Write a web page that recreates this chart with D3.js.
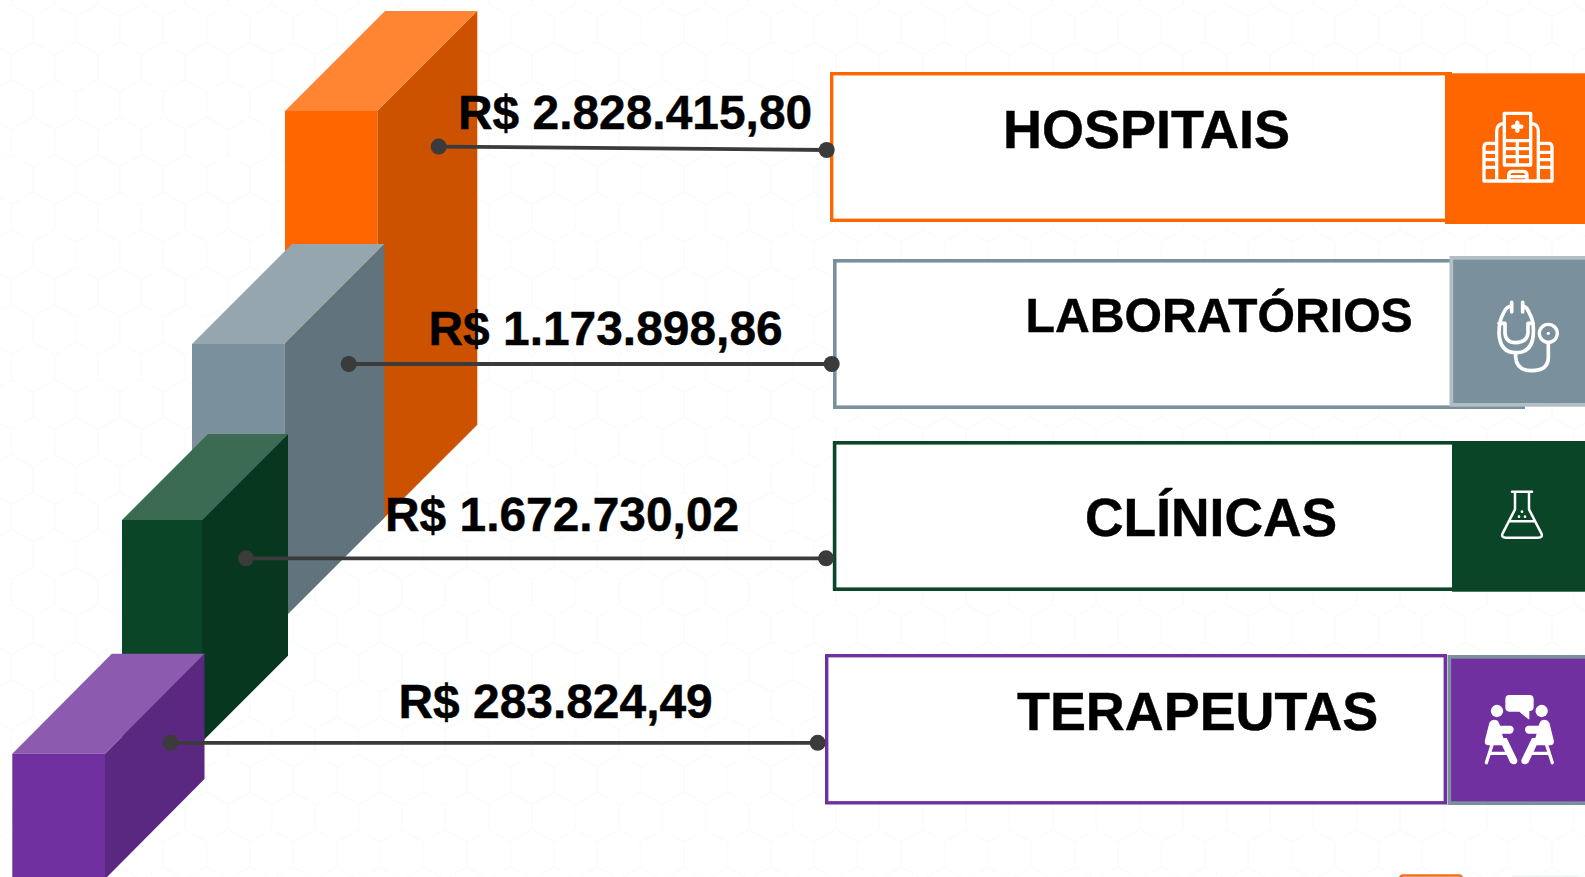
<!DOCTYPE html>
<html lang="pt-BR">
<head>
<meta charset="utf-8">
<title>Valores por categoria</title>
<script src="https://cdn.jsdelivr.net/npm/d3@7"></script>
<style>
html,body{margin:0;padding:0;background:#fff;overflow:hidden}
svg{display:block}
text{font-family:"Liberation Sans",Arial,sans-serif;font-weight:700;fill:#000;stroke:#000;stroke-width:.45px}
</style>
</head>
<body>
<svg id="chart" width="1585" height="877"></svg>
<script>
// ---- data ----
const categories = ["HOSPITAIS", "LABORATÓRIOS", "CLÍNICAS", "TERAPEUTAS"];
const values = [2828415.80, 1173898.86, 1672730.02, 283824.49];
// the printed values and the drawn block heights do not share a scale in the source,
// so the block heights are read separately, relative to the tallest block
const barLevels = [100, 66.2, 53.6, 30.3];
const frontColors = ["#ff6600", "#7a909c", "#0a4528", "#7030a0"];
const topColors = ["#ff8533", "#95a6ae", "#3b6b53", "#8c5bb0"];
const sideColors = ["#cc5200", "#61737d", "#083720", "#5a2880"];

// ---- layout ----
const W = 1585, H = 877;
const heightScale = d3.scaleLinear().domain([0, 100]).range([0, 413.7]);
const blocks = [
  {x0: 285, x1: 377.3, top: 111, dx: 100, dy: 100},
  {x0: 192, x1: 284.3, top: 344, dx: 100, dy: 100},
  {x0: 122, x1: 202, top: 520, dx: 86, dy: 86},
  {x0: 12.3, x1: 105, top: 753.7, dx: 99.5, dy: 100}
];
const links = [
  {x1: 438.7, y1: 146.6, x2: 826.7, y2: 150},
  {x1: 348.7, y1: 364, x2: 831.7, y2: 364},
  {x1: 246, y1: 558.3, x2: 826, y2: 558.3},
  {x1: 170.7, y1: 742.8, x2: 817.7, y2: 742.8}
];
const valueLabels = [
  {x: 458, y: 129}, {x: 428.5, y: 344.5}, {x: 385, y: 530.5}, {x: 398.5, y: 717.5}
];
const nameLabels = [
  {x: 1003, y: 147.5, size: 54}, {x: 1025.5, y: 331.5, size: 48.2},
  {x: 1085, y: 536, size: 53.4}, {x: 1017, y: 730, size: 53.9}
];
const boxes = [
  {x: 830, y: 72, r: 1452, b: 222, sw: 3.4},
  {x: 833, y: 259, r: 1525, b: 409, sw: 3.6},
  {x: 832.8, y: 441, r: 1460, b: 591, sw: 3.6},
  {x: 825, y: 654, r: 1447, b: 804.5, sw: 3.4}
];
const icons = [
  {x: 1445, y: 73.3, b: 224},
  {x: 1449.5, y: 256, b: 406.7, border: "#b0bec5"},
  {x: 1452, y: 441, b: 591.7},
  {x: 1447.5, y: 655, b: 805, border: "#7a909c"}
];

const svg = d3.select("#chart");

// ---- faint hexagonal paper texture ----
const hexW = 43.4, hexS = 25, rowH = hexS * 1.5;
const defs = svg.append("defs");
const pat = defs.append("pattern").attr("id", "hex").attr("patternUnits", "userSpaceOnUse")
  .attr("width", hexW).attr("height", rowH * 2).attr("x", 33).attr("y", 17);
const hexPath = d3.path();
hexPath.moveTo(0, 0); hexPath.lineTo(0, hexS);
hexPath.lineTo(hexW / 2, hexS * 1.5);
hexPath.lineTo(hexW, hexS);
hexPath.moveTo(hexW, 0); hexPath.lineTo(hexW, hexS);
hexPath.moveTo(hexW / 2, hexS * 1.5); hexPath.lineTo(hexW / 2, hexS * 2.5);
hexPath.lineTo(0, hexS * 3); hexPath.moveTo(hexW / 2, hexS * 2.5); hexPath.lineTo(hexW, hexS * 3);
pat.append("path").attr("d", hexPath.toString()).attr("fill", "none")
  .attr("stroke", "#f8fcfc").attr("stroke-width", 1.2);
svg.append("rect").attr("width", W).attr("height", H).attr("fill", "#fff");
svg.append("rect").attr("width", W).attr("height", H).attr("fill", "url(#hex)");

// ---- 3D blocks ----
const poly = d3.line();
const bars = svg.selectAll("g.block").data(categories).join("g").attr("class", "block");
bars.each(function(c, i) {
  const g = d3.select(this), b = blocks[i];
  const h = heightScale(barLevels[i]);
  const yb = b.top + h; // bottom of the front face
  g.append("path").attr("fill", sideColors[i]).attr("d", poly([
    [b.x1, b.top], [b.x1 + b.dx, b.top - b.dy], [b.x1 + b.dx, yb - b.dy], [b.x1, yb]]) + "Z");
  g.append("path").attr("fill", topColors[i]).attr("d", poly([
    [b.x0, b.top], [b.x0 + b.dx, b.top - b.dy], [b.x1 + b.dx, b.top - b.dy], [b.x1, b.top]]) + "Z");
  g.append("rect").attr("fill", frontColors[i]).attr("x", b.x0).attr("y", b.top)
    .attr("width", b.x1 - b.x0).attr("height", h);
});

// ---- boxes and icon tiles ----
categories.forEach((c, i) => {
  const b = boxes[i], s = b.sw;
  svg.append("rect").attr("x", b.x + s / 2).attr("y", b.y + s / 2)
    .attr("width", b.r - b.x - s).attr("height", b.b - b.y - s)
    .attr("fill", "#fff").attr("stroke", frontColors[i]).attr("stroke-width", s);
});
categories.forEach((c, i) => {
  const t = icons[i];
  if (t.border) {
    svg.append("rect").attr("x", t.x).attr("y", t.y).attr("width", W - t.x + 5).attr("height", t.b - t.y).attr("fill", t.border);
    svg.append("rect").attr("x", t.x + 3.7).attr("y", t.y + 3.7).attr("width", W - t.x).attr("height", t.b - t.y - 7.4).attr("fill", frontColors[i]);
  } else {
    svg.append("rect").attr("x", t.x).attr("y", t.y).attr("width", W - t.x).attr("height", t.b - t.y).attr("fill", frontColors[i]);
  }
});

// ---- cut-off elements at the bottom edge ----
svg.append("rect").attr("x", 1400).attr("y", 875.5).attr("width", 62).attr("height", 12).attr("rx", 3)
  .attr("fill", "#fff").attr("stroke", "#f07020").attr("stroke-width", 2.6);
svg.append("rect").attr("x", 1512).attr("y", 875.5).attr("width", 66).attr("height", 3).attr("fill", "#eef6f8");

// ---- connectors ----
svg.selectAll("line.link").data(links).join("line").attr("class", "link")
  .attr("x1", d => d.x1).attr("y1", d => d.y1).attr("x2", d => d.x2).attr("y2", d => d.y2)
  .attr("stroke", "#3b3b3b").attr("stroke-width", 3.8);
links.forEach(d => {
  svg.append("circle").attr("cx", d.x1).attr("cy", d.y1).attr("r", 8).attr("fill", "#3b3b3b");
  svg.append("circle").attr("cx", d.x2).attr("cy", d.y2).attr("r", 8).attr("fill", "#3b3b3b");
});

// ---- text ----
const brl = d3.formatLocale({decimal: ",", thousands: ".", grouping: [3], currency: ["R$ ", ""]}).format("$,.2f");
svg.selectAll("text.value").data(values).join("text").attr("class", "value")
  .attr("x", (d, i) => valueLabels[i].x).attr("y", (d, i) => valueLabels[i].y)
  .attr("font-size", 47.9).text(d => brl(d));
svg.selectAll("text.name").data(categories).join("text").attr("class", "name")
  .attr("x", (d, i) => nameLabels[i].x).attr("y", (d, i) => nameLabels[i].y)
  .attr("font-size", (d, i) => nameLabels[i].size).text(d => d);

// ---- icons, drawn in 3x crop space ----
function iconGroup(ox, oy) {
  return svg.append("g").attr("transform", `translate(${ox},${oy}) scale(${1/3})`)
    .attr("fill", "none").attr("stroke", "#fff").attr("stroke-width", 10)
    .attr("stroke-linecap", "round").attr("stroke-linejoin", "round");
}
// hospital
const ih = iconGroup(1400, 50);
ih.append("path").attr("d",
  "M313 345V190H392V345Z M313 220Q290 220 290 245V393 M392 220Q415 220 415 245V393 " +
  "M290 280H262Q252 280 252 292V393H456V292Q456 280 446 280H415 " +
  "M252 307H290 M252 329H290 M252 352H290 M415 307H456 M415 329H456 M415 352H456 " +
  "M313 272H392 M313 296H392 M313 320H392 M352 272V345 " +
  "M326 393V376Q326 364 338 364H368Q381 364 381 376V393 M326 380H381");
ih.append("path").attr("stroke-width", 13).attr("d", "M352 218V242 M340 230H364");
// stethoscope
const is = iconGroup(1400, 50);
is.append("path").attr("stroke-width", 11).attr("d",
  "M335 757V786 M368 757V786 M335 768Q318 770 310 790Q297 812 297 850Q300 908 347 908Q398 908 400 850Q402 812 388 790Q382 770 368 768 " +
  "M297 820H315V850Q318 878 347 878Q380 878 384 850V820H400 " +
  "M347 908V922Q350 962 395 962Q445 962 445 922V878");
is.append("circle").attr("cx", 445).attr("cy", 850).attr("r", 27);
is.append("circle").attr("cx", 445).attr("cy", 850).attr("r", 5).attr("fill", "#fff").attr("stroke", "none");
// flask
const iff = iconGroup(1400, 430);
iff.append("path").attr("stroke-width", 7.5).attr("d",
  "M336 185H396 M345 185V238L308 310Q302 323 318 323H414Q430 323 424 310L387 238V185 M331 274H401");
[[366, 245], [357, 260], [375, 260]].forEach(p =>
  iff.append("circle").attr("cx", p[0]).attr("cy", p[1]).attr("r", 4).attr("fill", "#fff").attr("stroke", "none"));
// two people talking
const im = iconGroup(1400, 430);
im.append("path").attr("fill", "#fff").attr("stroke", "none")
  .attr("d", "M328 795H388Q401 795 401 808V830Q401 843 388 843V868Q384 868 358 845H328Q316 845 316 832V808Q316 795 328 795Z");
[0, 1].forEach(side => {
  const g = im.append("g").attr("transform", side ? "translate(716,0) scale(-1,1)" : null);
  g.append("circle").attr("cx", 291).attr("cy", 843).attr("r", 18.5).attr("fill", "#fff").attr("stroke", "none");
  g.append("path").attr("fill", "#fff").attr("stroke", "none")
    .attr("d", "M268 878Q275 866 288 870Q296 872 300 887H332Q341 890 341 898Q341 908 332 911H306L310 924H320L352 990Q353 1004 340 1003Q331 1002 328 992L306 946H265Q252 945 255 930Z");
  g.append("path").attr("stroke-width", 10)
    .attr("d", "M259 998L276 945 M268 970H318");
});
</script>
</body>
</html>
